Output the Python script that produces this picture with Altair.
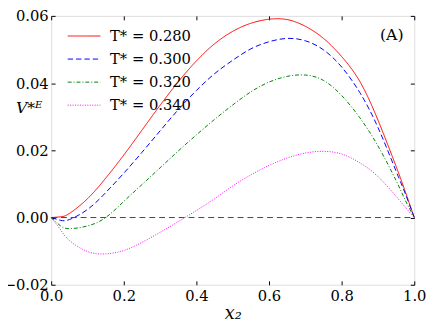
import altair as alt
import pandas as pd

# ---- data ----
x2 = [0.0, 0.025, 0.05, 0.1, 0.15, 0.2, 0.25, 0.3, 0.35, 0.4, 0.45, 0.5,
      0.55, 0.6, 0.65, 0.7, 0.75, 0.8, 0.85, 0.9, 0.95, 0.975, 1.0]
v_280 = [0.0, 0.0002, 0.0012, 0.0056, 0.0117, 0.0186, 0.026, 0.0334, 0.0404, 0.0466, 0.0517, 0.0554,
         0.0578, 0.059, 0.0589, 0.0569, 0.0533, 0.0479, 0.0405, 0.029, 0.0152, 0.0078, 0.0]
v_300 = [0.0, -0.0008, -0.0006, 0.0024, 0.0074, 0.0132, 0.0194, 0.0258, 0.0321, 0.0378, 0.0428, 0.0468,
         0.0502, 0.0523, 0.0533, 0.0526, 0.0499, 0.0448, 0.0372, 0.0268, 0.0138, 0.0072, 0.0]
v_320 = [0.0, -0.0024, -0.0033, -0.0025, 0.0, 0.0048, 0.0098, 0.0148, 0.0198, 0.0246, 0.0292, 0.0335,
         0.0374, 0.0403, 0.042, 0.0424, 0.0408, 0.0363, 0.0297, 0.0213, 0.011, 0.0052, 0.0]
v_340 = [0.0, -0.0035, -0.0068, -0.0101, -0.0108, -0.0098, -0.0074, -0.0044, -0.0012, 0.0021, 0.0056, 0.0094,
         0.0127, 0.0155, 0.0177, 0.0192, 0.0197, 0.0189, 0.0163, 0.0122, 0.0063, 0.0031, 0.0]

series_labels = ["T*\u00a0=\u00a00.280", "T*\u00a0=\u00a00.300", "T*\u00a0=\u00a00.320", "T*\u00a0=\u00a00.340"]
series_values = [v_280, v_300, v_320, v_340]
series_colors = ["#ff0000", "#0000ff", "#008000", "#ff00ff"]
series_dashes = [[1, 0], [5.5, 3], [4, 2, 1, 2], [1, 1.5]]

x_ticks = [0.0, 0.2, 0.4, 0.6, 0.8, 1.0]
y_ticks = [-0.02, 0.0, 0.02, 0.04, 0.06]

zero_x = [0.0, 1.0]
zero_y = [0.0, 0.0]

annot_text = ["(A)"]
annot_x = [0.938]
annot_y = [0.0543]

# ---- tables ----
rows = []
for lab, vals in zip(series_labels, series_values):
    for xv, yv in zip(x2, vals):
        rows.append({"x2": xv, "V": yv, "T": lab})
df = pd.DataFrame(rows)
zero_df = pd.DataFrame({"x2": zero_x, "V": zero_y})
annot_df = pd.DataFrame({"x2": annot_x, "V": annot_y, "t": annot_text})

W, H = 370, 274
FONT = "DejaVu Serif"
FS = 15
xs = alt.Scale(domain=[0, 1], nice=False, zero=False)
ys = alt.Scale(domain=[-0.02, 0.06], nice=False, zero=False)


def tick_axis(orient, offset, values):
    return alt.Axis(orient=orient, offset=offset, values=values, labels=False, ticks=True,
                    tickSize=4, tickColor="black", tickWidth=1, domain=False, grid=False, title=None)


legend = alt.Legend(
    orient="none", legendX=24, legendY=11, title=None,
    symbolType="M-1.85,0L1.85,0", symbolSize=324, symbolStrokeWidth=1,
    labelFont=FONT, labelFontSize=FS, labelColor="black", labelOffset=17,
    rowPadding=5.5, padding=0, labelLimit=200,
)

zero_layer = alt.Chart(zero_df).mark_line(color="#444444", strokeWidth=1, strokeDash=[6, 4]).encode(
    x=alt.X("x2:Q", scale=xs, axis=tick_axis("top", -H, x_ticks)),
    y=alt.Y("V:Q", scale=ys, axis=tick_axis("right", -W, y_ticks)),
)

curves = alt.Chart(df).mark_line(strokeWidth=1, interpolate="natural").encode(
    x=alt.X("x2:Q", scale=xs, axis=alt.Axis(
        orient="bottom", values=x_ticks, format=".1f", ticks=False, domain=False, grid=False,
        labelFont=FONT, labelFontSize=FS, labelColor="black", labelPadding=4,
        labelFlush=False, labelOverlap=False, labelBound=False,
        title="x\u2082", titleFont=FONT, titleFontSize=18, titleFontStyle="italic",
        titleFontWeight="normal", titleColor="black", titleY=29, titleBaseline="middle")),
    y=alt.Y("V:Q", scale=ys, axis=alt.Axis(
        orient="left", values=y_ticks, format=".2f", ticks=False, domain=False, grid=False,
        labelFont=FONT, labelFontSize=FS, labelColor="black", labelPadding=3,
        labelFlush=False, labelOverlap=False, labelBound=False,
        title="V*\u1d31", titleFont=FONT, titleFontSize=16, titleFontStyle="italic",
        titleFontWeight="normal", titleColor="black", titleAngle=0, titleX=-23, titleY=93,
        titleAlign="center", titleBaseline="middle")),
    color=alt.Color("T:N", scale=alt.Scale(domain=series_labels, range=series_colors), legend=legend),
    strokeDash=alt.StrokeDash("T:N", scale=alt.Scale(domain=series_labels, range=series_dashes), legend=legend),
)

ticks_layer = alt.Chart(zero_df).mark_line(opacity=0).encode(
    x=alt.X("x2:Q", scale=xs, axis=tick_axis("bottom", -H, x_ticks)),
    y=alt.Y("V:Q", scale=ys, axis=tick_axis("left", -W, y_ticks)),
)

annot = alt.Chart(annot_df).mark_text(font=FONT, fontSize=16, color="black", align="center", baseline="middle").encode(
    x=alt.X("x2:Q", scale=xs, axis=None),
    y=alt.Y("V:Q", scale=ys, axis=None),
    text="t:N",
)

chart = alt.layer(zero_layer, curves, ticks_layer, annot).resolve_axis(
    x="independent", y="independent"
).properties(
    width=W, height=H,
    autosize=alt.AutoSizeParams(type="none"),
    padding={"left": 44, "top": 5, "right": 14, "bottom": 40},
).configure_view(stroke="black", strokeWidth=1).configure(background="white")

chart.save("out.html", embed_options={"renderer": "svg", "actions": False})
